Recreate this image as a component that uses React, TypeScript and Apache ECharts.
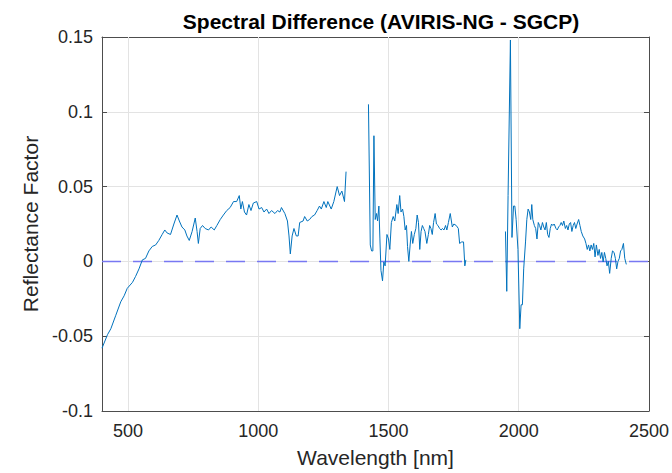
import React, { useEffect, useRef } from "react";
import * as echarts from "echarts";

// Segment 1 (VNIR)
const seg1Wl = [400, 421, 434, 453, 472, 485, 497, 517, 529, 542, 555, 567, 580, 593, 606, 618, 631, 641, 650, 663, 676, 688, 697, 707, 718, 726, 735, 746, 758, 765, 770, 777, 786, 796, 809, 819, 831, 841, 854, 866, 879, 892, 905, 917, 927, 933, 939, 947, 955, 964, 972, 981, 994, 1003, 1013, 1022, 1032, 1041, 1051, 1064, 1074, 1083, 1089, 1102, 1112, 1118, 1123, 1130, 1137, 1146, 1153, 1159, 1172, 1178, 1188, 1197, 1206, 1216, 1226, 1235, 1242, 1252, 1261, 1267, 1280, 1290, 1303, 1312, 1321, 1331, 1337];
const seg1Val = [-0.058, -0.049, -0.045, -0.036, -0.027, -0.023, -0.018, -0.014, -0.010, -0.005, 0.001, 0.002, 0.007, 0.010, 0.011, 0.014, 0.018, 0.021, 0.019, 0.018, 0.025, 0.031, 0.027, 0.023, 0.021, 0.017, 0.014, 0.020, 0.029, 0.020, 0.012, 0.022, 0.024, 0.022, 0.021, 0.023, 0.021, 0.024, 0.028, 0.031, 0.034, 0.036, 0.040, 0.040, 0.044, 0.035, 0.040, 0.033, 0.031, 0.038, 0.034, 0.039, 0.040, 0.035, 0.036, 0.033, 0.035, 0.032, 0.034, 0.032, 0.034, 0.033, 0.036, 0.032, 0.027, 0.017, 0.005, 0.017, 0.022, 0.017, 0.017, 0.026, 0.027, 0.030, 0.027, 0.028, 0.030, 0.031, 0.034, 0.037, 0.035, 0.040, 0.036, 0.040, 0.035, 0.040, 0.050, 0.044, 0.047, 0.040, 0.060];

// Segment 2 (SWIR 1)
const seg2Wl = [1423, 1430, 1435, 1440, 1444, 1449, 1454, 1458, 1463, 1467, 1471, 1477, 1482, 1487, 1494, 1500, 1505, 1511, 1518, 1524, 1532, 1537, 1543, 1548, 1554, 1559, 1564, 1569, 1573, 1578, 1583, 1588, 1593, 1599, 1605, 1610, 1615, 1620, 1625, 1630, 1635, 1640, 1647, 1653, 1658, 1663, 1668, 1673, 1679, 1684, 1690, 1696, 1702, 1707, 1713, 1719, 1724, 1730, 1737, 1745, 1751, 1760, 1768, 1773, 1781, 1788, 1793, 1797];
const seg2Val = [0.105, 0.011, 0.007, 0.007, 0.084, 0.028, 0.032, 0.027, 0.037, 0.015, -0.006, -0.013, -0.0004, -0.003, 0.018, 0.015, 0.008, 0.026, 0.030, 0.027, 0.038, 0.032, 0.044, 0.033, 0.035, 0.030, 0.021, 0.024, 0.010, 0.000, 0.011, 0.020, 0.012, 0.018, 0.022, 0.031, 0.026, 0.008, 0.020, 0.024, 0.022, 0.020, 0.012, 0.018, 0.024, 0.022, 0.018, 0.026, 0.032, 0.025, 0.024, 0.022, 0.021, 0.022, 0.021, 0.024, 0.021, 0.026, 0.032, 0.023, 0.025, 0.024, 0.022, 0.012, 0.013, 0.013, -0.003, 0.001];

// Segment 3 (SWIR 2)
const seg3Wl = [1949, 1954, 1959, 1968, 1974, 1980, 1985, 1990, 1997, 2004, 2009, 2014, 2019, 2026, 2031, 2036, 2041, 2046, 2050, 2054, 2060, 2065, 2070, 2075, 2080, 2085, 2091, 2096, 2101, 2106, 2111, 2116, 2121, 2126, 2131, 2136, 2143, 2148, 2153, 2158, 2163, 2168, 2173, 2179, 2184, 2189, 2194, 2199, 2204, 2209, 2214, 2219, 2224, 2230, 2235, 2240, 2246, 2253, 2258, 2263, 2268, 2273, 2278, 2283, 2288, 2293, 2298, 2304, 2309, 2314, 2319, 2324, 2329, 2334, 2339, 2344, 2349, 2355, 2360, 2366, 2371, 2376, 2381, 2386, 2391, 2396, 2402, 2407, 2413];
const seg3Val = [0.020, -0.020, 0.044, 0.148, 0.016, 0.037, 0.037, 0.028, 0.008, -0.045, -0.029, -0.029, -0.005, 0.013, 0.028, 0.035, 0.033, 0.028, 0.038, 0.028, 0.024, 0.022, 0.015, 0.026, 0.024, 0.021, 0.026, 0.023, 0.021, 0.026, 0.018, 0.016, 0.022, 0.025, 0.024, 0.025, 0.022, 0.021, 0.023, 0.024, 0.026, 0.024, 0.027, 0.022, 0.024, 0.021, 0.025, 0.026, 0.020, 0.024, 0.026, 0.022, 0.025, 0.028, 0.024, 0.020, 0.017, 0.015, 0.012, 0.008, 0.011, 0.007, 0.011, 0.008, 0.012, 0.003, 0.011, 0.004, 0.008, 0.002, 0.006, -0.0004, 0.006, 0.002, -0.003, 0.000, -0.008, 0.002, 0.007, 0.006, 0.002, -0.005, 0.000, 0.002, 0.007, 0.008, 0.012, 0.002, -0.002];

// Zero reference line
const zeroWl = [400, 2500];
const zeroVal = [0, 0];

const xTicks = [500, 1000, 1500, 2000, 2500];
const yTickLabels = ["-0.1", "-0.05", "0", "0.05", "0.1", "0.15"];

const FONT = "'Liberation Sans', Arial, Helvetica, sans-serif";

export default function App() {
  const ref = useRef<HTMLDivElement>(null);
  useEffect(() => {
    if (!ref.current) return;
    const chart = echarts.init(ref.current, null, { renderer: "svg" });
    const spectrum: any[] = [];
    const pushSeg = (wl: number[], v: number[]) => {
      wl.forEach((w, i) => spectrum.push([w, v[i]]));
    };
    pushSeg(seg1Wl, seg1Val);
    spectrum.push([1380, "-"]);
    pushSeg(seg2Wl, seg2Val);
    spectrum.push([1870, "-"]);
    pushSeg(seg3Wl, seg3Val);

    const axisColor = "#4d4d4d";
    const gridColor = "#e3e3e3";
    const textColor = "#262626";
    const yFmt = (v: number) => {
      const idx = Math.round((v + 0.1) / 0.05);
      return yTickLabels[idx] ?? String(v);
    };

    chart.setOption({
      animation: false,
      backgroundColor: "#ffffff",
      title: {
        text: "Spectral Difference (AVIRIS-NG - SGCP)",
        left: 376,
        textAlign: "center",
        top: 6,
        textStyle: { fontFamily: FONT, fontWeight: "bold", fontSize: 21, color: "#000" },
      },
      grid: { left: 102, right: 21, top: 37, bottom: 60, containLabel: false },
      xAxis: [
        {
          type: "value",
          min: 400,
          max: 2500,
          position: "bottom",
          name: "Wavelength [nm]",
          nameLocation: "middle",
          nameGap: 36,
          nameTextStyle: { fontFamily: FONT, fontSize: 21, color: textColor },
          axisLine: { show: true, onZero: false, lineStyle: { color: axisColor, width: 1 } },
          axisTick: { show: true, inside: true, length: 5, customValues: xTicks, lineStyle: { color: axisColor } },
          axisLabel: {
            show: true,
            margin: 11,
            fontFamily: FONT,
            fontSize: 18,
            color: textColor,
            customValues: xTicks,
            formatter: (v: number) => String(Math.round(v)),
          },
          splitLine: { show: false },
        },
        {
          type: "value",
          min: 400,
          max: 2500,
          position: "top",
          axisLine: { show: true, onZero: false, lineStyle: { color: axisColor, width: 1 } },
          axisTick: { show: true, inside: true, length: 5, customValues: xTicks, lineStyle: { color: axisColor } },
          axisLabel: { show: false },
          splitLine: { show: false },
        },
      ],
      yAxis: [
        {
          type: "value",
          min: -0.1,
          max: 0.15,
          interval: 0.05,
          position: "left",
          name: "Reflectance Factor",
          nameLocation: "middle",
          nameGap: 61,
          nameTextStyle: { fontFamily: FONT, fontSize: 21, color: textColor },
          axisLine: { show: true, onZero: false, lineStyle: { color: axisColor, width: 1 } },
          axisTick: { show: true, inside: true, length: 5, lineStyle: { color: axisColor } },
          axisLabel: { margin: 9, fontFamily: FONT, fontSize: 18, color: textColor, formatter: yFmt },
          splitLine: { show: true, lineStyle: { color: gridColor, width: 1 } },
        },
        {
          type: "value",
          min: -0.1,
          max: 0.15,
          interval: 0.05,
          position: "right",
          axisLine: { show: true, onZero: false, lineStyle: { color: axisColor, width: 1 } },
          axisTick: { show: true, inside: true, length: 5, lineStyle: { color: axisColor } },
          axisLabel: { show: false },
          splitLine: { show: false },
        },
      ],
      series: [
        {
          type: "line",
          xAxisIndex: 0,
          yAxisIndex: 0,
          data: zeroWl.map((w, i) => [w, zeroVal[i]]),
          showSymbol: false,
          symbol: "none",
          lineStyle: { color: "#7878f2", width: 1.5, type: [19, 12] },
          silent: true,
          z: 2,
          markLine: {
            silent: true,
            symbol: "none",
            label: { show: false },
            lineStyle: { color: gridColor, width: 1, type: "solid" },
            z: 1,
            data: xTicks.filter((t) => t < 2500).map((t) => ({ xAxis: t })),
          },
        },
        {
          type: "line",
          xAxisIndex: 0,
          yAxisIndex: 0,
          data: spectrum,
          showSymbol: false,
          symbol: "none",
          connectNulls: false,
          lineStyle: { color: "#0072BD", width: 1 },
          z: 3,
        },
      ],
    });
    return () => chart.dispose();
  }, []);
  return <div ref={ref} style={{ width: 672, height: 473, position: "absolute", left: 0, top: 0 }} />;
}
